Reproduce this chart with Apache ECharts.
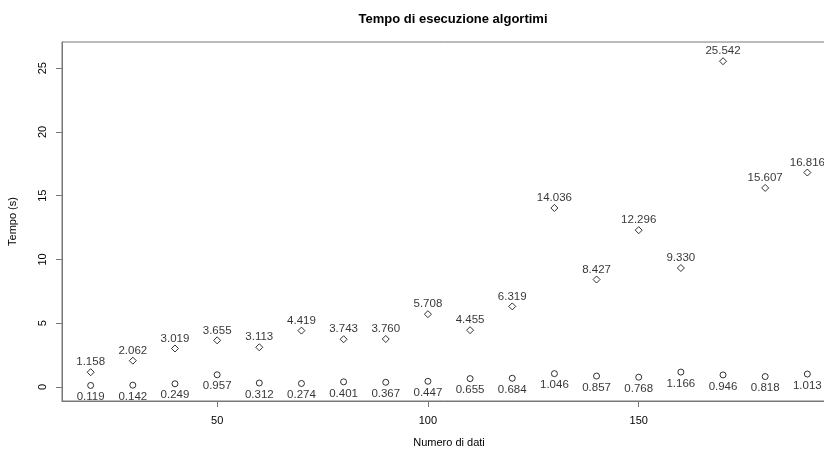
<!DOCTYPE html>
<html>
<head>
<meta charset="utf-8">
<script src="https://cdn.jsdelivr.net/npm/echarts@6/dist/echarts.min.js"></script>
<style>html,body{margin:0;padding:0;background:#fff}#c{width:824px;height:454px}</style>
</head>
<body>
<div id="c"></div>
<script>
const xValues = [20,30,40,50,60,70,80,90,100,110,120,130,140,150,160,170,180,190];
const diamondValues = [1.158,2.062,3.019,3.655,3.113,4.419,3.743,3.760,5.708,4.455,6.319,14.036,8.427,12.296,9.330,25.542,15.607,16.816];
const circleValues = [0.119,0.142,0.249,0.957,0.312,0.274,0.401,0.367,0.447,0.655,0.684,1.046,0.857,0.768,1.166,0.946,0.818,1.013];
const xTicks = [50,100,150];
const yTicks = [0,5,10,15,20,25];

const FONT = '"Liberation Sans", Arial, sans-serif';
const chart = echarts.init(document.getElementById('c'), null, {renderer:'canvas'});
const fmt = v => v.toFixed(3);
chart.setOption({
  animation:false,
  backgroundColor:'#fff',
  title:{text:'Tempo di esecuzione algortimi', left:448, top:8, textAlign:'center',
    textStyle:{fontFamily:FONT, fontSize:13, fontWeight:'bold', color:'#000'}},
  grid:{left:62, top:42, width:774, height:359, outerBoundsMode:'none', containLabel:false,
    show:true, borderColor:'#777', borderWidth:1, backgroundColor:'transparent'},
  xAxis:{type:'value', min:13.2, max:196.8, name:'Numero di dati', nameLocation:'middle', nameGap:36,
    nameTextStyle:{fontFamily:FONT, fontSize:11, color:'#000'},
    axisLine:{show:true, onZero:false, lineStyle:{color:'#777'}},
    axisTick:{show:true, length:6, customValues:xTicks, lineStyle:{color:'#777'}},
    axisLabel:{customValues:xTicks, fontFamily:FONT, fontSize:11, color:'#000', margin:14},
    splitLine:{show:false}},
  yAxis:{type:'value', min:-1.1, max:27.05, name:'Tempo (s)', nameLocation:'middle', nameGap:44,
    nameTextStyle:{fontFamily:FONT, fontSize:11, color:'#000'},
    axisLine:{show:true, onZero:false, lineStyle:{color:'#777'}},
    axisTick:{show:true, length:6, customValues:yTicks, lineStyle:{color:'#777'}},
    axisLabel:{customValues:yTicks, rotate:90, fontFamily:FONT, fontSize:11, color:'#000', margin:14},
    splitLine:{show:false}},
  series:[
    {type:'scatter', symbol:'diamond', symbolSize:7,
      data:xValues.map((x,i)=>[x,diamondValues[i]]),
      itemStyle:{color:'#fff', borderColor:'#000', borderWidth:1},
      label:{show:true, position:'top', distance:0, formatter:p=>fmt(p.value[1]),
        fontFamily:FONT, fontSize:11.5, color:'#000'}},
    {type:'scatter', symbol:'circle', symbolSize:6,
      data:xValues.map((x,i)=>[x,circleValues[i]]),
      itemStyle:{color:'#fff', borderColor:'#000', borderWidth:1},
      label:{show:true, position:'bottom', distance:2, formatter:p=>fmt(p.value[1]),
        fontFamily:FONT, fontSize:11.5, color:'#000'}}
  ]
});
</script>
</body>
</html>
